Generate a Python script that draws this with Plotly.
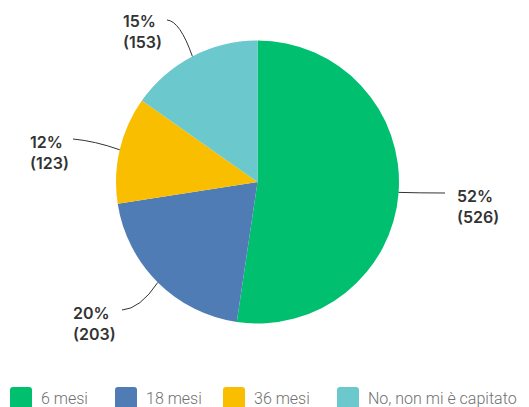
import math
import plotly.graph_objects as go

# Survey answers (count of respondents)
categories = ["6 mesi", "18 mesi", "36 mesi", "No, non mi è capitato"]
counts = [526, 203, 123, 153]
colors = ["#00BF6F", "#507CB5", "#F9BE00", "#6BC8CD"]

W, H = 529, 407
# pie placement in pixels
CX, CY, R = 257.5, 182.0, 141.5

# label block (left edge x, centre y) and leader-line end / bend control per slice
LABEL_POS = [(455, 206), (71, 323), (28, 152), (121, 32)]
LINE_END = [(445, 193), (122, 310), (73, 139), (167, 20)]
LINE_CTRL = [(420, 193), (140, 309), (95, 141), (180, 21)]

# legend layout: square left x for each entry
LEGEND_X = [10, 115, 223, 337]
LEGEND_Y = 398
SQ = 22


def px(x):
    return x / W


def py(y):
    return 1 - y / H


fig = go.Figure(
    go.Pie(
        labels=categories,
        values=counts,
        marker=dict(colors=colors, line=dict(width=0)),
        sort=False,
        direction="clockwise",
        rotation=0,
        textinfo="none",
        hoverinfo="label+value+percent",
        showlegend=False,
        domain=dict(x=[px(CX - R), px(CX + R)], y=[py(CY + R), py(CY - R)]),
    )
)

total = sum(counts)
shapes = []
annotations = []
cum = 0
for i, v in enumerate(counts):
    frac = v / total
    mid = (cum + frac / 2) * 2 * math.pi  # clockwise from 12 o'clock
    cum += frac
    ex = CX + R * math.sin(mid)
    ey = CY - R * math.cos(mid)
    lx, ly = LINE_END[i]
    qx, qy = LINE_CTRL[i]
    path = (f"M {px(ex)},{py(ey)} Q {px(qx)},{py(qy)} {px(lx)},{py(ly)}")
    shapes.append(dict(type="path", xref="paper", yref="paper", path=path,
                       line=dict(color="#333333", width=1)))
    tx, ty = LABEL_POS[i]
    annotations.append(dict(
        x=px(tx), y=py(ty), xref="paper", yref="paper",
        xanchor="left", yanchor="middle", align="left", showarrow=False,
        text=f"{round(frac * 100)}%<br>({v})",
        font=dict(family="Inter", size=16, color="#333333", weight=600),
    ))

# legend drawn as rounded squares with labels
rad = 3
for i, name in enumerate(categories):
    x0 = LEGEND_X[i]
    y0 = LEGEND_Y - SQ / 2
    x1, y1 = x0 + SQ, y0 + SQ
    p = (f"M {px(x0 + rad)},{py(y0)} L {px(x1 - rad)},{py(y0)} "
         f"Q {px(x1)},{py(y0)} {px(x1)},{py(y0 + rad)} "
         f"L {px(x1)},{py(y1 - rad)} Q {px(x1)},{py(y1)} {px(x1 - rad)},{py(y1)} "
         f"L {px(x0 + rad)},{py(y1)} Q {px(x0)},{py(y1)} {px(x0)},{py(y1 - rad)} "
         f"L {px(x0)},{py(y0 + rad)} Q {px(x0)},{py(y0)} {px(x0 + rad)},{py(y0)} Z")
    shapes.append(dict(type="path", xref="paper", yref="paper", path=p,
                       fillcolor=colors[i], line=dict(width=0)))
    annotations.append(dict(
        x=px(x1 + 7), y=py(LEGEND_Y), xref="paper", yref="paper",
        xanchor="left", yanchor="middle", showarrow=False, text=name,
        font=dict(family="Roboto", size=16, color="#707070", weight=300),
    ))

fig.update_layout(
    width=W, height=H,
    margin=dict(l=0, r=0, t=0, b=0),
    paper_bgcolor="white", plot_bgcolor="white",
    shapes=shapes, annotations=annotations,
)

fig.write_html("out.html")
